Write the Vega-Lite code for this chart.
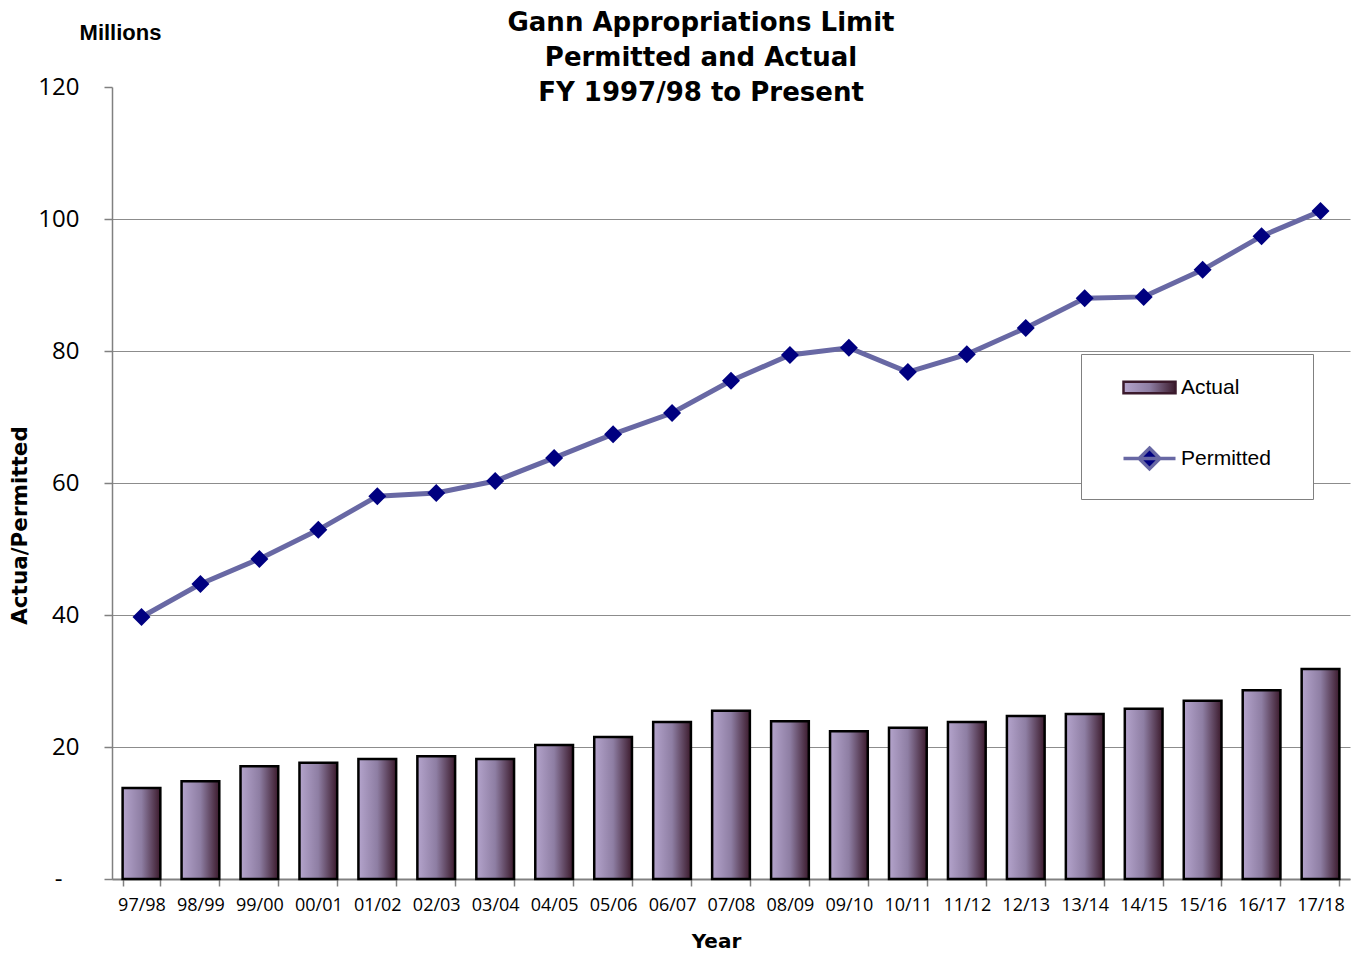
{
  "$schema": "https://vega.github.io/schema/vega-lite/v6.json",
  "width": 1238,
  "height": 792,
  "autosize": {"type": "none"},
  "padding": {"left": 112, "top": 87, "right": 9, "bottom": 76},
  "background": "white",
  "title": {
    "text": ["Gann Appropriations Limit", "Permitted and Actual", "FY 1997/98 to Present"],
    "font": "DejaVu Sans",
    "fontSize": 26,
    "fontWeight": "bold",
    "color": "#000000",
    "lineHeight": 35,
    "anchor": "middle",
    "frame": "group",
    "dx": -30,
    "dy": 93,
    "baseline": "alphabetic",
    "offset": -13
  },
  "data": {
    "values": [
      {"year": "97/98", "actual": 13.8, "permitted": 39.7},
      {"year": "98/99", "actual": 14.8, "permitted": 44.7},
      {"year": "99/00", "actual": 17.1, "permitted": 48.5},
      {"year": "00/01", "actual": 17.6, "permitted": 52.9},
      {"year": "01/02", "actual": 18.2, "permitted": 58.0},
      {"year": "02/03", "actual": 18.6, "permitted": 58.5},
      {"year": "03/04", "actual": 18.2, "permitted": 60.3},
      {"year": "04/05", "actual": 20.3, "permitted": 63.8},
      {"year": "05/06", "actual": 21.5, "permitted": 67.4},
      {"year": "06/07", "actual": 23.8, "permitted": 70.6},
      {"year": "07/08", "actual": 25.5, "permitted": 75.5},
      {"year": "08/09", "actual": 23.9, "permitted": 79.4},
      {"year": "09/10", "actual": 22.4, "permitted": 80.5},
      {"year": "10/11", "actual": 22.9, "permitted": 76.8},
      {"year": "11/12", "actual": 23.8, "permitted": 79.5},
      {"year": "12/13", "actual": 24.7, "permitted": 83.5},
      {"year": "13/14", "actual": 25.0, "permitted": 88.0},
      {"year": "14/15", "actual": 25.8, "permitted": 88.2},
      {"year": "15/16", "actual": 27.0, "permitted": 92.3},
      {"year": "16/17", "actual": 28.6, "permitted": 97.4},
      {"year": "17/18", "actual": 31.8, "permitted": 101.2}
    ]
  },
  "config": {
    "view": {"stroke": null},
    "axis": {"labelColor": "#000000", "titleColor": "#000000"}
  },
  "resolve": {"scale": {"y": "independent"}},
  "layer": [
    {
      "mark": {
        "type": "bar",
        "color": {
          "gradient": "linear",
          "x1": 0, "y1": 0, "x2": 1, "y2": 0,
          "stops": [
            {"offset": 0, "color": "#b4a4cc"},
            {"offset": 0.5, "color": "#8e7ea3"},
            {"offset": 1, "color": "#3b1a2c"}
          ]
        },
        "stroke": "#000000",
        "strokeWidth": 2.5
      },
      "encoding": {
        "x": {
          "field": "year",
          "type": "ordinal",
          "sort": null,
          "scale": {"paddingInner": 0.36, "paddingOuter": 0.18},
          "axis": {
            "title": "Year",
            "titleFont": "DejaVu Sans",
            "titleFontSize": 20,
            "titleFontWeight": "bold",
            "titleX": 604,
            "titleY": 62,
            "titleBaseline": "middle",
            "titleAlign": "center",
            "labelAngle": 0,
            "labelFont": "Open Sans",
            "labelFontSize": 18,
            "labelPadding": 10,
            "tickBand": "extent",
            "tickSize": 7,
            "tickColor": "#808080",
            "tickWidth": 1.5,
            "domainColor": "#808080",
            "domainWidth": 2,
            "grid": false
          }
        },
        "y": {
          "field": "actual",
          "type": "quantitative",
          "scale": {"domain": [0, 120], "nice": false},
          "axis": {
            "orient": "left",
            "values": [0, 20, 40, 60, 80, 100, 120],
            "labelExpr": "datum.value === 0 ? '-' : datum.label",
            "labelFont": "Open Sans",
            "labelFontSize": 24,
            "labelPadding": {"condition": {"test": "datum.value === 0", "value": 42}, "value": 25},
            "tickSize": 8,
            "tickColor": "#808080",
            "tickWidth": 1.5,
            "domainColor": "#808080",
            "domainWidth": 1.5,
            "grid": true,
            "gridColor": "#8c8c8c",
            "gridWidth": 1.2,
            "gridOpacity": {"condition": {"test": "datum.value === 120", "value": 0}, "value": 1},
            "title": "Actua/Permitted",
            "titleFont": "DejaVu Sans",
            "titleFontSize": 21.5,
            "titleFontWeight": "bold",
            "titleAngle": -90,
            "titleX": -92,
            "titleY": 438,
            "titleAlign": "center",
            "titleBaseline": "middle"
          }
        }
      }
    },
    {
      "layer": [
        {
          "mark": {"type": "line", "strokeWidth": 5},
          "encoding": {
            "x": {"field": "year", "type": "ordinal", "sort": null},
            "y": {
              "field": "permitted",
              "type": "quantitative",
              "scale": {"domain": [0, 120], "nice": false},
              "axis": {
                "orient": "right",
                "labels": false,
                "ticks": false,
                "domain": false,
                "grid": false,
                "title": "Millions",
                "titleFont": "Liberation Sans",
                "titleFontSize": 22,
                "titleFontWeight": "bold",
                "titleAngle": 0,
                "titleX": -1230,
                "titleY": -55,
                "titleAlign": "center",
                "titleBaseline": "middle"
              }
            },
            "color": {
              "datum": "Permitted",
              "scale": {"domain": ["Actual", "Permitted"], "range": ["#3b1a2c", "#6868a4"]},
              "legend": {
                "title": null,
                "orient": "none",
                "legendX": 969,
                "legendY": 267,
                "direction": "vertical",
                "fillColor": "#ffffff",
                "strokeColor": "#808080",
                "padding": 23,
                "symbolSize": 2704,
                "symbolOffset": 35,
                "labelOffset": 21,
                "rowPadding": 42,
                "labelFont": "Liberation Sans",
                "labelFontSize": 21,
                "labelColor": "#000000",
                "encode": {
                  "symbols": {
                    "update": {
                      "shape": {"signal": "datum.value === 'Actual' ? 'M-1,-0.22H1V0.22H-1Z' : 'M5.13,0M-1,0H1M0,-0.4L0.4,0L0,0.4L-0.4,0Z'"},
                      "fill": {"signal": "datum.value === 'Actual' ? {gradient: 'linear', x1: 0, y1: 0, x2: 1, y2: 0, stops: [{offset: 0, color: '#b4a4cc'}, {offset: 0.5, color: '#8e7ea3'}, {offset: 1, color: '#3b1a2c'}]} : '#000080'"},
                      "stroke": {"signal": "datum.value === 'Actual' ? '#000000' : '#6868a4'"},
                      "strokeWidth": {"signal": "datum.value === 'Actual' ? 2.5 : 3.5"},
                      "opacity": {"value": 1},
                      "fillOpacity": {"value": 1},
                      "strokeOpacity": {"value": 1}
                    }
                  }
                }
              }
            }
          }
        },
        {
          "mark": {"type": "point", "shape": "diamond", "filled": true, "size": 324, "color": "#000080", "opacity": 1},
          "encoding": {
            "x": {"field": "year", "type": "ordinal", "sort": null},
            "y": {"field": "permitted", "type": "quantitative"}
          }
        }
      ]
    }
  ]
}
